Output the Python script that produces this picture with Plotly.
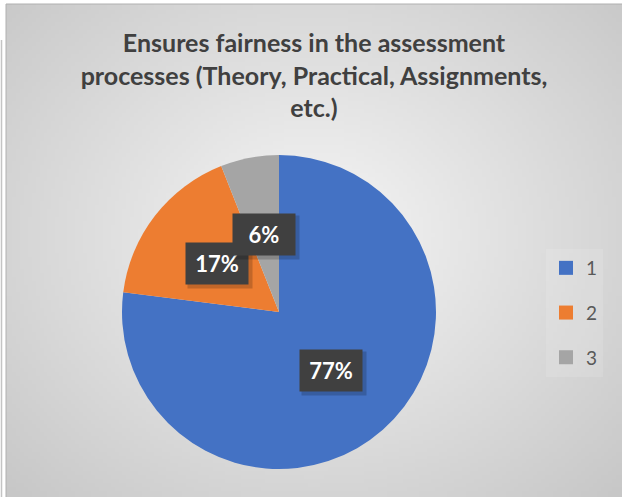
import base64
import math
import struct
import zlib

import numpy as np
import plotly.graph_objects as go

# data
labels = ["1", "2", "3"]
values = [77, 17, 6]
colors = ["#4472C4", "#ED7D31", "#A5A5A5"]
title_lines = ["Ensures fairness in the assessment",
               "processes (Theory, Practical, Assignments,",
               "etc.)"]

W, H = 622, 497
# pie geometry in pixels
cx, cy, rad = 279, 312, 157


def gradient_png(w=156, h=124):
    # radial grey gradient like the office chart area fill
    yy, xx = np.mgrid[0:h, 0:w]
    dx = (xx / (w - 1) - 0.5) / 0.5
    dy = (yy / (h - 1) - 0.47) / 0.53
    d = np.sqrt(dx ** 2 + dy ** 2)
    v = np.clip(246 - 33 * d, 190, 250).astype(np.uint8)
    raw = b"".join(b"\x00" + bytes(row) for row in v)

    def chunk(tag, data):
        c = struct.pack(">I", len(data)) + tag + data
        return c + struct.pack(">I", zlib.crc32(tag + data) & 0xffffffff)

    png = b"\x89PNG\r\n\x1a\n"
    png += chunk(b"IHDR", struct.pack(">IIBBBBB", w, h, 8, 0, 0, 0, 0))
    png += chunk(b"IDAT", zlib.compress(raw, 9))
    png += chunk(b"IEND", b"")
    return "data:image/png;base64," + base64.b64encode(png).decode()


fig = go.Figure()
fig.add_trace(go.Pie(
    labels=labels, values=values,
    marker=dict(colors=colors),
    sort=False, direction="clockwise", rotation=0,
    textinfo="none", hoverinfo="label+percent",
    showlegend=False,
    domain=dict(x=[(cx - rad) / W, (cx + rad) / W],
                y=[1 - (cy + rad) / H, 1 - (cy - rad) / H]),
))

# legend entries
for lab, col in zip(labels, colors):
    fig.add_trace(go.Scatter(
        x=[None], y=[None], mode="markers", name=lab,
        legendgroup=lab,
        marker=dict(symbol="square", size=14, color=col),
    ))

# data labels in dark boxes at half radius
total = sum(values)
cum = 0
for v in values:
    mid = (cum + v / 2) / total * 2 * math.pi
    cum += v
    px = cx + 0.5 * rad * math.sin(mid)
    py = cy - 0.5 * rad * math.cos(mid)
    # soft drop shadow, then the box itself
    fig.add_annotation(
        x=px / W, y=1 - py / H, xref="paper", yref="paper",
        xanchor="center", yanchor="middle", xshift=3, yshift=-3,
        text="&nbsp;", showarrow=False, bgcolor="rgba(0,0,0,0.18)",
        borderpad=7, width=50, height=29,
        font=dict(family="Lato", size=22),
    )
    fig.add_annotation(
        x=px / W, y=1 - py / H, xref="paper", yref="paper",
        xanchor="center", yanchor="middle",
        text="<b>%d%%</b>" % round(v / total * 100),
        showarrow=False, bgcolor="#404040",
        borderpad=7, width=48, height=27,
        font=dict(family="Lato", size=22, color="white"),
    )

fig.add_layout_image(dict(
    source=gradient_png(), xref="paper", yref="paper",
    x=6 / W, y=1 - 4 / H, sizex=1 - 6 / W, sizey=1 - 4 / H,
    xanchor="left", yanchor="top", sizing="stretch", layer="below",
))
fig.add_shape(type="rect", xref="paper", yref="paper",
              x0=6 / W, x1=1.01, y0=-0.01, y1=1 - 4 / H,
              line=dict(color="#b0b0b0", width=1), layer="below")
fig.add_shape(type="line", xref="paper", yref="paper",
              x0=1.5 / W, x1=1.5 / W, y0=0, y1=1 - 40 / H,
              line=dict(color="#c4c4c4", width=1.5))

fig.update_layout(
    width=W, height=H,
    margin=dict(l=0, r=0, t=0, b=0),
    paper_bgcolor="white", plot_bgcolor="rgba(0,0,0,0)",
    xaxis=dict(visible=False), yaxis=dict(visible=False),
    title=dict(text="<b>" + "<br>".join(title_lines) + "</b>",
               x=314 / W, xanchor="center", xref="paper",
               y=1 - 52 / H, yanchor="top", yref="container",
               font=dict(family="Lato", size=25, color="#404040")),
    legend=dict(x=546 / W, y=1 - 249 / H, xanchor="left", yanchor="top",
                bgcolor="rgba(255,255,255,0.12)", tracegroupgap=17,
                itemwidth=30,
                font=dict(family="Lato", size=19, color="#595959")),
)

# the page's default body margin would shift the figure
fig.write_html("out.html", config={"displayModeBar": False},
               post_script="document.body.style.margin='0';")
